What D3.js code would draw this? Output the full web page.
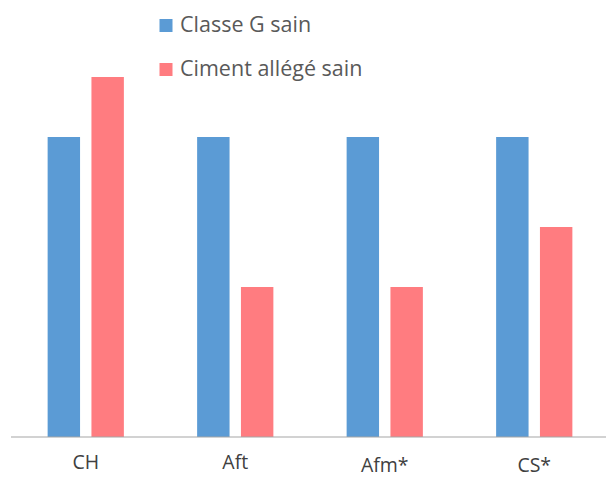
<!DOCTYPE html>
<html><head><meta charset="utf-8">
<script src="https://cdn.jsdelivr.net/npm/d3@7"></script>
<style>body{margin:0;background:#fff}svg{display:block}text{font-family:"Open Sans",sans-serif}</style>
</head><body>
<svg id="c" width="606" height="477"></svg>
<script>
const categories = ["CH", "Aft", "Afm*", "CS*"];
const seriesNames = ["Classe G sain", "Ciment allégé sain"];
const classeG = [10, 10, 10, 10];
const cimentAllege = [12, 5, 5, 7];
const colors = ["#5B9BD5", "#FF7C80"];

const svg = d3.select("#c");
const x0 = d3.scaleBand().domain(categories).range([11, 609]).paddingInner(0.49).paddingOuter(0.245);
const x1 = d3.scaleBand().domain(seriesNames).range([0, x0.bandwidth()]).paddingInner(0.26);
const y = d3.scaleLinear().domain([0, 12]).range([437, 77]);

const data = categories.map((c, i) => ({cat: c, vals: [classeG[i], cimentAllege[i]]}));
const g = svg.append("g");
g.selectAll("g.grp").data(data).join("g").attr("class","grp")
  .attr("transform", d => `translate(${x0(d.cat)},0)`)
  .selectAll("rect").data(d => d.vals.map((v, j) => ({s: seriesNames[j], v, j})))
  .join("rect")
  .attr("x", d => x1(d.s)).attr("width", x1.bandwidth())
  .attr("y", d => y(d.v)).attr("height", d => y(0) - y(d.v))
  .attr("fill", d => colors[d.j]);

const ax = svg.append("g").attr("transform", `translate(0,${y(0)})`)
  .call(d3.axisBottom(x0).tickSize(0).tickPadding(14));
ax.select(".domain").attr("stroke", "#a6a6a6").attr("stroke-width", 1.2).attr("d", "M11,0H606");
ax.selectAll(".tick text").attr("font-size", 19.5).attr("fill", "#404040")
  .attr("font-family", "Open Sans, sans-serif")
  .attr("dy", 0)
  .attr("y", d => d.includes("*") ? 34.5 : 32);

const leg = svg.append("g");
seriesNames.forEach((s, i) => {
  const base = 32 + i * 44;
  leg.append("rect").attr("x", 159.5).attr("y", base - 13).attr("width", 13).attr("height", 13).attr("fill", colors[i]);
  leg.append("text").attr("x", 180).attr("y", base)
    .attr("font-size", 21.5).attr("fill", "#595959").text(s);
});
</script>
</body></html>
